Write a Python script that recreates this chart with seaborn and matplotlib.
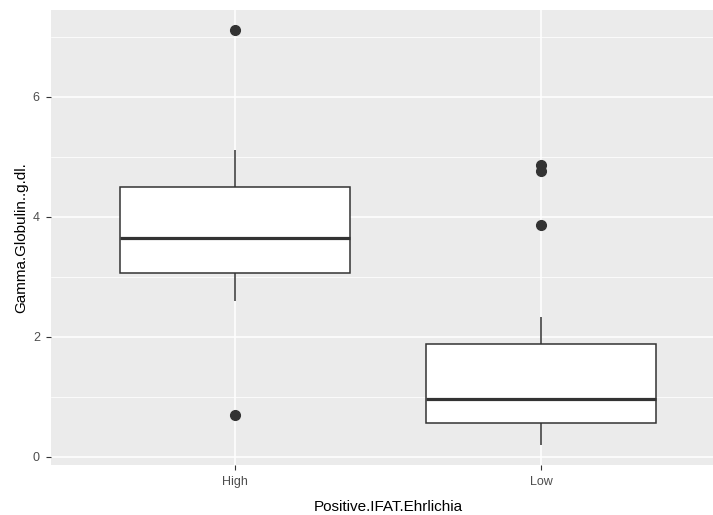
import pandas as pd
import matplotlib
matplotlib.use("Agg")
import matplotlib.pyplot as plt
import seaborn as sns
from matplotlib.ticker import MultipleLocator

# Values
high_values = [0.70, 2.59, 2.80, 2.95, 3.06, 3.25, 3.45, 3.55, 3.645,
               3.85, 4.05, 4.30, 4.505, 4.70, 4.90, 5.12, 7.12]
low_values = [0.20, 0.30, 0.40, 0.48, 0.56, 0.65, 0.75, 0.88, 0.967,
              1.20, 1.45, 1.70, 1.87, 2.33, 3.86, 4.77, 4.87]
groups = ["High", "Low"]
x_label = "Positive.IFAT.Ehrlichia"
y_label = "Gamma.Globulin..g.dl."

df = pd.DataFrame({
    x_label: [groups[0]] * len(high_values) + [groups[1]] * len(low_values),
    y_label: high_values + low_values,
})

sns.set_theme(style="darkgrid")
plt.rcParams["font.family"] = ["Liberation Sans", "DejaVu Sans"]

fig = plt.figure(figsize=(7.13, 5.15), dpi=100)
ax = fig.add_axes([51.4 / 713, 50.5 / 515, 673.2 / 713, 454.5 / 515])
ax.set_facecolor("#EBEBEB")

sns.boxplot(
    data=df, x=x_label, y=y_label, order=groups, ax=ax,
    width=0.75, color="white", saturation=1, linecolor="#333333",
    linewidth=1.1, showcaps=False, whis=1.5,
    medianprops=dict(linewidth=2.3, color="#333333"),
    flierprops=dict(marker="o", markerfacecolor="#333333",
                    markeredgecolor="#333333", markersize=7),
)

ax.set_xlim(-0.6, 1.6)
ax.set_ylim(-0.133, 7.45)
ax.yaxis.set_major_locator(MultipleLocator(2))
ax.yaxis.set_minor_locator(MultipleLocator(1))
ax.set_axisbelow(True)
ax.grid(which="major", color="white", linewidth=1.1)
ax.grid(which="minor", axis="y", color="white", linewidth=0.55)
for s in ax.spines.values():
    s.set_visible(False)

ax.tick_params(axis="both", which="major", length=3.3, width=0.8,
               color="#333333", labelcolor="#4D4D4D", labelsize=9,
               bottom=True, left=True)
ax.tick_params(axis="x", which="major", pad=5)
ax.tick_params(axis="y", which="major", pad=5)
ax.tick_params(axis="y", which="minor", length=0, left=False)
ax.set_xlabel(x_label, fontsize=11, color="black", labelpad=8.5)
ax.set_ylabel(y_label, fontsize=11, color="black", labelpad=3)

fig.savefig("out.png", dpi=100, facecolor="white")
